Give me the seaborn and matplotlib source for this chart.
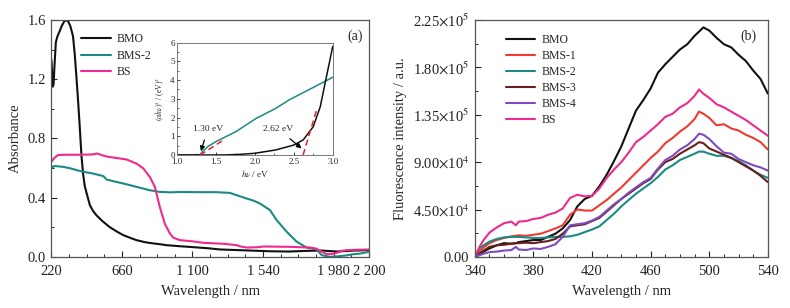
import matplotlib
matplotlib.use("Agg")
import matplotlib.pyplot as plt
import seaborn as sns
from matplotlib.ticker import FixedLocator, MultipleLocator, FuncFormatter

# ---------------- data: panel (a) UV-vis absorbance ----------------
bmo_wl = [220, 223, 226, 230, 234, 240, 248, 258, 270, 285, 300, 313, 325, 338, 348,
          355, 365, 376, 387, 398, 408, 418, 428, 440, 460, 480, 502, 540, 585, 630,
          668, 720, 751, 800, 834, 900, 938, 1021, 1100, 1200, 1271, 1350, 1450, 1583, 1700,
          1800, 1900, 2000, 2100, 2200]
bmo_abs = [1.33, 1.28, 1.2, 1.15, 1.17, 1.3, 1.45, 1.49, 1.52, 1.56, 1.59, 1.6, 1.59, 1.56, 1.52,
           1.49, 1.38, 1.22, 1.05, 0.86, 0.68, 0.56, 0.48, 0.43, 0.35, 0.31, 0.28, 0.24, 0.2, 0.17,
           0.147, 0.125, 0.113, 0.1, 0.094, 0.085, 0.079, 0.072, 0.066, 0.058, 0.05, 0.047, 0.043, 0.038, 0.036,
           0.04, 0.043, 0.036, 0.042, 0.046]

bms2_wl = [220, 235, 260, 294, 340, 380, 418, 470, 522, 545, 564, 610, 668, 751, 834,
           896, 960, 1021, 1150, 1250, 1334, 1380, 1438, 1480, 1521, 1583, 1625, 1687, 1750, 1812,
           1874, 1905, 1957, 2019, 2060, 2102, 2144, 2200]
bms2_abs = [0.598, 0.613, 0.612, 0.608, 0.598, 0.585, 0.575, 0.565, 0.552, 0.545, 0.523, 0.51, 0.496, 0.473, 0.45,
            0.439, 0.436, 0.438, 0.437, 0.437, 0.432, 0.415, 0.394, 0.38, 0.36, 0.316, 0.248, 0.17, 0.102, 0.063,
            0.05, 0.012, 0.0, 0.005, 0.01, 0.018, 0.022, 0.034]

bs_wl = [220, 240, 262, 300, 400, 480, 502, 515, 540, 574, 689, 751, 793, 834, 865,
         896, 927, 958, 980, 1021, 1100, 1167, 1300, 1375, 1400, 1438, 1500, 1542, 1700, 1833,
         1870, 1905, 1937, 1970, 1999, 2030, 2061, 2120, 2200]
bs_abs = [0.642, 0.67, 0.688, 0.69, 0.69, 0.692, 0.698, 0.695, 0.685, 0.676, 0.658, 0.63, 0.598, 0.54, 0.474,
          0.338, 0.225, 0.16, 0.13, 0.113, 0.105, 0.095, 0.088, 0.079, 0.07, 0.063, 0.065, 0.07, 0.068, 0.063,
          0.056, 0.035, 0.018, 0.02, 0.027, 0.04, 0.045, 0.048, 0.05]

# inset: Tauc plot
tauc_bms2_ev = [1.0, 1.25, 1.30, 1.33, 1.40, 1.50, 1.76, 2.02, 2.27, 2.44, 2.70, 3.0]
tauc_bms2 = [0, 0, 0.02, 0.18, 0.45, 0.71, 1.25, 1.96, 2.49, 2.94, 3.5, 4.15]
tauc_bmo_ev = [1.0, 1.6, 1.8, 2.0, 2.27, 2.5, 2.62, 2.75, 2.84, 2.90, 2.97, 3.0]
tauc_bmo = [0, 0, 0.03, 0.09, 0.27, 0.53, 0.8, 1.51, 2.58, 3.8, 5.2, 5.8]
tan_bmo_ev = [2.62, 2.80]
tan_bmo = [0.0, 2.5]
tan_bms2_ev = [1.30, 1.60]
tan_bms2 = [0.0, 0.8]

# ---------------- data: panel (b) fluorescence (units of 1e4) ----------------
pl_wl = [340, 343, 346, 350, 355, 360, 365, 368, 370, 375, 380, 385, 390, 395, 400,
         405, 410, 415, 420, 425, 430, 435, 440, 445, 450, 455, 460, 465, 470, 475,
         480, 485, 490, 493, 496, 500, 505, 510, 515, 520, 525, 530, 535, 540]
pl_bmo = [0.0, 0.2, 0.5, 0.8, 1.1, 1.3, 1.25, 1.3, 1.4, 1.5, 1.6, 1.6, 1.9, 2.2, 2.7,
          3.5, 4.8, 5.5, 5.8, 6.7, 7.8, 9.1, 10.5, 12.2, 13.9, 14.9, 16.0, 17.5, 18.3, 19.0,
          19.7, 20.2, 21.0, 21.4, 21.8, 21.5, 20.8, 20.2, 19.9, 19.2, 18.6, 17.7, 16.9, 15.5]
pl_bms1 = [0.0, 0.5, 0.9, 1.3, 1.6, 1.8, 1.95, 2.0, 2.05, 2.0, 2.1, 2.2, 2.45, 2.7, 3.0,
           4.0, 4.5, 4.4, 4.4, 4.9, 5.4, 6.0, 6.6, 7.3, 8.0, 8.7, 9.4, 10.0, 10.8, 11.3,
           11.9, 12.4, 13.1, 13.8, 13.6, 13.2, 12.5, 12.6, 12.2, 12.0, 11.6, 11.3, 10.9, 10.2]
pl_bms2 = [0.0, 0.8, 1.1, 1.45, 1.7, 1.85, 1.9, 1.9, 1.9, 1.85, 1.8, 1.8, 1.85, 1.9, 1.9,
           1.95, 2.1, 2.35, 2.6, 2.9, 3.5, 4.1, 4.8, 5.4, 6.0, 6.5, 7.0, 7.6, 8.3, 8.7,
           9.2, 9.5, 9.8, 10.0, 10.0, 9.8, 9.6, 9.6, 9.4, 9.1, 8.7, 8.2, 7.8, 7.5]
pl_bms3 = [0.0, 0.3, 0.6, 0.95, 1.1, 1.15, 1.25, 1.3, 1.3, 1.35, 1.3, 1.4, 1.5, 1.7, 2.2,
           2.9, 3.0, 3.1, 3.4, 3.7, 4.3, 4.9, 5.5, 6.0, 6.5, 7.0, 7.4, 8.3, 9.0, 9.3,
           9.8, 10.2, 10.6, 10.9, 10.8, 10.3, 10.0, 9.7, 9.4, 9.0, 8.6, 8.2, 7.7, 7.1]
pl_bms4 = [0.0, 0.15, 0.3, 0.45, 0.5, 0.6, 0.65, 0.95, 0.7, 0.65, 0.8, 0.75, 0.95, 1.2, 1.9,
           3.0, 3.1, 3.2, 3.45, 3.8, 4.4, 5.0, 5.5, 6.1, 6.6, 7.1, 7.5, 8.4, 9.2, 9.6,
           10.2, 10.6, 11.2, 11.7, 11.6, 11.2, 10.5, 9.9, 9.8, 9.3, 9.0, 8.7, 8.5, 8.2]
pl_bs = [0.0, 0.9, 1.6, 2.3, 2.8, 3.2, 3.35, 3.0, 3.35, 3.4, 3.6, 3.7, 4.0, 4.2, 4.6,
         5.6, 5.9, 5.75, 5.8, 6.5, 7.5, 8.3, 9.0, 9.9, 10.9, 11.4, 12.0, 12.6, 13.3, 13.6,
         14.2, 14.6, 15.3, 15.9, 15.5, 15.1, 14.5, 14.2, 13.8, 13.4, 13.0, 12.5, 12.0, 11.5]

a_xticks = [220, 660, 1100, 1540, 1980, 2200]
a_xticklabels = ["220", "660", "1 100", "1 540", "1 980", "2 200"]
b_xticks = [340, 380, 420, 460, 500, 540]
b_yticks = [0, 45000, 90000, 135000, 180000, 225000]
b_yticklabels = ["0.00", r"4.50$\times$10$^{4}$", r"9.00$\times$10$^{4}$",
                 r"1.35$\times$10$^{5}$", r"1.80$\times$10$^{5}$", r"2.25$\times$10$^{5}$"]

# ---------------- style ----------------
sns.set_style("ticks")
plt.rcParams["font.family"] = ["Liberation Serif", "DejaVu Serif"]
plt.rcParams["mathtext.fontset"] = "stix"
plt.rcParams["xtick.direction"] = "in"
plt.rcParams["ytick.direction"] = "in"

C_BLACK = "#111111"
C_TEAL = "#1b8a82"
C_PINK = "#ee2a8c"
C_RED = "#f03a30"
C_BROWN = "#6a1f1f"
C_PURPLE = "#7d4cc0"
SPINE = "#555555"

fig = plt.figure(figsize=(7.9, 3.08), dpi=100)
ax1 = fig.add_axes([0.065, 0.166, 0.402, 0.769])
ax2 = fig.add_axes([0.601, 0.166, 0.371, 0.769])
axi = fig.add_axes([0.2237, 0.4968, 0.1975, 0.3646])

LW = 1.5
sns.lineplot(x=bmo_wl, y=bmo_abs, ax=ax1, color=C_BLACK, lw=LW, label="BMO")
sns.lineplot(x=bms2_wl, y=bms2_abs, ax=ax1, color=C_TEAL, lw=LW, label="BMS-2")
sns.lineplot(x=bs_wl, y=bs_abs, ax=ax1, color=C_PINK, lw=LW, label="BS")
ax1.set_xlim(220, 2200)
ax1.set_ylim(0, 1.6)
ax1.xaxis.set_major_locator(FixedLocator(a_xticks))
ax1.set_xticklabels(a_xticklabels)
ax1.xaxis.set_minor_locator(MultipleLocator(110))
ax1.yaxis.set_major_locator(MultipleLocator(0.4))
ax1.yaxis.set_minor_locator(MultipleLocator(0.2))
ax1.yaxis.set_major_formatter(FuncFormatter(lambda v, p: f"{v:.1f}"))
ax1.set_xlabel("Wavelength / nm", fontsize=10.5, labelpad=5)
ax1.set_ylabel("Absorbance", fontsize=10.5, labelpad=4)
ax1.text(0.955, 0.93, "(a)", transform=ax1.transAxes, fontsize=10, ha="center", va="center")
ax1.legend(loc="upper left", bbox_to_anchor=(0.06, 0.99), frameon=False, fontsize=8.5,
           handlelength=2.5, labelspacing=0.4, handletextpad=0.5)

# inset
sns.lineplot(x=tauc_bms2_ev, y=tauc_bms2, ax=axi, color=C_TEAL, lw=1.1)
sns.lineplot(x=tauc_bmo_ev, y=tauc_bmo, ax=axi, color=C_BLACK, lw=1.1)
axi.plot(tan_bmo_ev, tan_bmo, color="#e8202a", lw=1.1, ls=(0, (4, 2.5)))
axi.plot(tan_bms2_ev, tan_bms2, color="#e8202a", lw=1.1, ls=(0, (4, 2.5)))
axi.set_xlim(1.0, 3.0)
axi.set_ylim(0, 6)
axi.xaxis.set_major_locator(MultipleLocator(0.5))
axi.xaxis.set_major_formatter(FuncFormatter(lambda v, p: f"{v:.1f}"))
axi.yaxis.set_major_locator(MultipleLocator(1))
axi.yaxis.set_minor_locator(MultipleLocator(0.5))
axi.xaxis.set_minor_locator(MultipleLocator(0.25))
axi.tick_params(labelsize=6.5, length=2.5, width=0.6)
axi.tick_params(axis="x", pad=2.5)
axi.tick_params(axis="y", pad=1.5)
axi.tick_params(which="minor", length=1.5, width=0.5)
axi.set_xlabel(r"$h\nu$ / eV", fontsize=6.5, labelpad=1)
axi.set_ylabel(r"$(\alpha h\nu)^2$ / (eV)$^2$", fontsize=5.5, labelpad=2)
for s in axi.spines.values():
    s.set_color("#777777")
    s.set_linewidth(0.7)
axi.annotate("1.30 eV", xy=(1.31, 0.2), xytext=(1.40, 1.4), fontsize=6.8,
             ha="center", va="center",
             arrowprops=dict(arrowstyle="-|>", color="black", lw=0.9, mutation_scale=7,
                             shrinkA=3, shrinkB=0))
axi.annotate("2.62 eV", xy=(2.60, 0.35), xytext=(2.30, 1.4), fontsize=6.8,
             ha="center", va="center",
             arrowprops=dict(arrowstyle="-|>", color="black", lw=0.9, mutation_scale=7,
                             shrinkA=3, shrinkB=0))

# panel (b)
scale = 1e4
series_b = [("BMO", pl_bmo, C_BLACK), ("BMS-1", pl_bms1, C_RED), ("BMS-2", pl_bms2, C_TEAL),
            ("BMS-3", pl_bms3, C_BROWN), ("BMS-4", pl_bms4, C_PURPLE), ("BS", pl_bs, C_PINK)]
for name, vals, col in series_b:
    sns.lineplot(x=pl_wl, y=[v * scale for v in vals], ax=ax2, color=col, lw=LW, label=name)
ax2.set_xlim(340, 540)
ax2.set_ylim(0, 225000)
ax2.xaxis.set_major_locator(FixedLocator(b_xticks))
ax2.xaxis.set_minor_locator(MultipleLocator(10))
ax2.yaxis.set_major_locator(FixedLocator(b_yticks))
ax2.set_yticklabels(b_yticklabels)
ax2.yaxis.set_minor_locator(MultipleLocator(22500))
ax2.set_xlabel("Wavelength / nm", fontsize=10.5, labelpad=5)
ax2.set_ylabel("Fluorescence intensity / a.u.", fontsize=10.5, labelpad=4)
ax2.text(0.935, 0.93, "(b)", transform=ax2.transAxes, fontsize=10, ha="center", va="center")
ax2.legend(loc="upper left", bbox_to_anchor=(0.07, 0.985), frameon=False, fontsize=8.5,
           handlelength=2.5, labelspacing=0.33, handletextpad=0.5)

for ax in (ax1, ax2):
    ax.tick_params(labelsize=10.5, length=4, width=0.8, colors="#222222")
    ax.tick_params(axis="x", pad=6)
    ax.tick_params(axis="y", pad=4)
    ax.tick_params(which="minor", length=2.5, width=0.7)
    for s in ax.spines.values():
        s.set_color(SPINE)
        s.set_linewidth(0.9)

fig.savefig("out.png", dpi=100)
